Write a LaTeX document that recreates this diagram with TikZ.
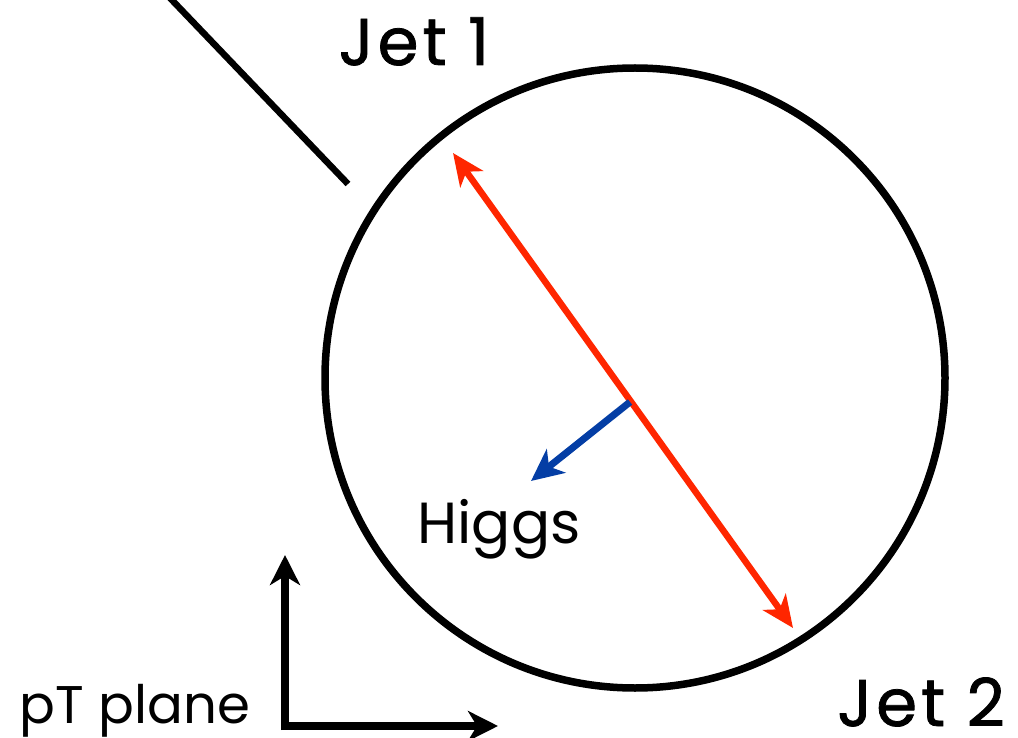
\documentclass[tikz,border=0pt]{standalone}
\usepackage{fontspec}
\setmainfont{Poppins}
\newfontfamily\jetfont[LetterSpace=6,FakeBold=1.2]{Poppins}
\usetikzlibrary{arrows.meta}
\begin{document}
\begin{tikzpicture}[x=1pt,y=-1pt,
  lbl/.style={font=\fontsize{58}{68}\selectfont, inner sep=0pt},
  jetlbl/.style={font=\jetfont\fontsize{66}{76}\selectfont, inner sep=0pt},
  redarr/.style={draw={rgb,255:red,255;green,38;blue,0}, line width=6.5pt, {Stealth[length=32pt,width=28pt,inset=9pt]}-{Stealth[length=32pt,width=28pt,inset=9pt]}},
  bluearr/.style={draw={rgb,255:red,4;green,62;blue,165}, line width=7pt, -{Stealth[length=32pt,width=30pt,inset=9pt]}},
  axarr/.style={draw=black, line width=8pt, -{Stealth[length=30pt,width=30pt,inset=9pt]}}]
\useasboundingbox (0,0) rectangle (1018,738);
\node[draw, line width=7.5pt, circle, minimum size=620pt, inner sep=0pt] (c) at (635,378) {};
\coordinate (l1) at (170,-2);
\coordinate (l2) at (348,184);
\draw[line width=6.5pt] (l1) -- (l2);
\coordinate (j1) at (453,153);
\coordinate (j2) at (793,628);
\draw[redarr] (j1) -- (j2);
\coordinate (m) at (630,402);
\coordinate (h) at (531,481);
\draw[bluearr] (m) -- (h);
\coordinate (o) at (285,726);
\coordinate (ya) at (285,555);
\coordinate (xa) at (498,726);
\draw[axarr] ([yshift=-4pt]o) -- (ya);
\draw[axarr] ([xshift=-4pt]o) -- (xa);
\node[jetlbl, anchor=base] (t1) at (414,65) {Jet 1};
\node[jetlbl, anchor=base] (t2) at (921,726) {Jet 2};
\node[lbl, anchor=base] (th) at (499,543) {Higgs};
\node[lbl, anchor=base, font=\fontsize{53}{62}\selectfont] (tp) at (135,723) {pT plane};
\end{tikzpicture}
\end{document}
